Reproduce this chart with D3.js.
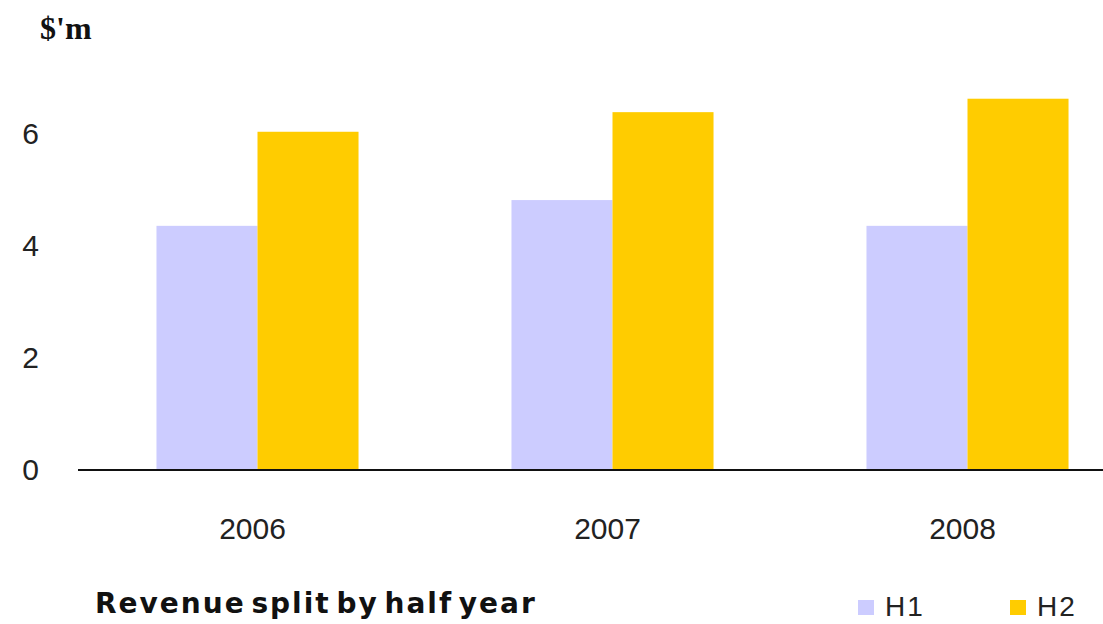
<!DOCTYPE html>
<html lang="en">
<head>
    <meta charset="UTF-8">
    <title>Revenue split by half year</title>
    <script src="https://d3js.org/d3.v7.min.js"></script>
    <style>
        body { margin: 0; background: #fff; }
        svg { display: block; }
    </style>
</head>
<body>
    <div id="chart"></div>

    <script>
        // DATA
        const years = ["2006", "2007", "2008"];
        const seriesNames = ["H1", "H2"];
        const h1Values = [4.36, 4.82, 4.36];
        const h2Values = [6.04, 6.39, 6.63];
        const yTicks = [0, 2, 4, 6];

        const W = 1103, H = 624;
        const colors = { H1: "#ccccff", H2: "#ffcc00" };
        const tickFont = "Liberation Sans, Arial, sans-serif";

        const svg = d3.select("#chart")
            .append("svg")
            .attr("width", W)
            .attr("height", H);

        const x = d3.scaleBand().domain(years).range([80, 1145]).paddingInner(0).paddingOuter(0);
        const x1 = d3.scaleBand().domain(seriesNames).range([0, x.bandwidth()]).paddingInner(0).paddingOuter(0.757);
        const y = d3.scaleLinear().domain([0, 6]).range([470, 134]);

        const rows = years.map((yr, i) => ({ year: yr, H1: h1Values[i], H2: h2Values[i] }));

        svg.append("g")
            .selectAll("g")
            .data(rows)
            .join("g")
            .attr("transform", d => `translate(${x(d.year)},0)`)
            .selectAll("rect")
            .data(d => seriesNames.map(k => ({ key: k, value: d[k] })))
            .join("rect")
            .attr("x", d => x1(d.key))
            .attr("y", d => y(d.value))
            .attr("width", x1.bandwidth())
            .attr("height", d => y(0) - y(d.value))
            .attr("fill", d => colors[d.key]);

        // y tick labels (no axis line)
        const yAxis = svg.append("g")
            .attr("transform", "translate(39,0)")
            .call(d3.axisLeft(y).tickValues(yTicks).tickFormat(d3.format("d")).tickSize(0).tickPadding(0));
        yAxis.select(".domain").remove();
        yAxis.selectAll("text")
            .attr("font-family", tickFont)
            .attr("font-size", 30)
            .attr("fill", "#222");

        // x axis labels
        const xAxis = svg.append("g")
            .attr("transform", `translate(-5,${y(0)})`)
            .call(d3.axisBottom(x).tickSize(0).tickPadding(48));
        xAxis.select(".domain").remove();
        xAxis.selectAll("text")
            .attr("font-family", tickFont)
            .attr("font-size", 30)
            .attr("fill", "#222");

        svg.append("line")
            .attr("x1", 78).attr("x2", W)
            .attr("y1", y(0)).attr("y2", y(0))
            .attr("stroke", "#111")
            .attr("stroke-width", 2);

        // unit label
        svg.append("text")
            .attr("x", 40).attr("y", 39)
            .attr("font-family", "Liberation Serif, Times New Roman, serif")
            .attr("font-weight", "bold")
            .attr("font-size", 32)
            .attr("fill", "#111")
            .text("$'m");

        // title
        svg.append("text")
            .attr("x", 95).attr("y", 613)
            .attr("font-family", "DejaVu Sans, Verdana, sans-serif")
            .attr("font-weight", "bold")
            .attr("font-size", 28)
            .attr("letter-spacing", 2)
            .attr("word-spacing", -6)
            .attr("fill", "#111")
            .text("Revenue split by half year");

        // legend
        const legendX = [858, 1010];
        const legend = svg.append("g")
            .selectAll("g")
            .data(seriesNames)
            .join("g")
            .attr("transform", (d, i) => `translate(${legendX[i]},600)`);
        legend.append("rect")
            .attr("width", 16).attr("height", 15)
            .attr("fill", d => colors[d]);
        legend.append("text")
            .attr("x", 27).attr("y", 16)
            .attr("font-family", tickFont)
            .attr("font-size", 28)
            .attr("letter-spacing", 2)
            .attr("fill", "#222")
            .text(d => d);
    </script>
</body>
</html>
